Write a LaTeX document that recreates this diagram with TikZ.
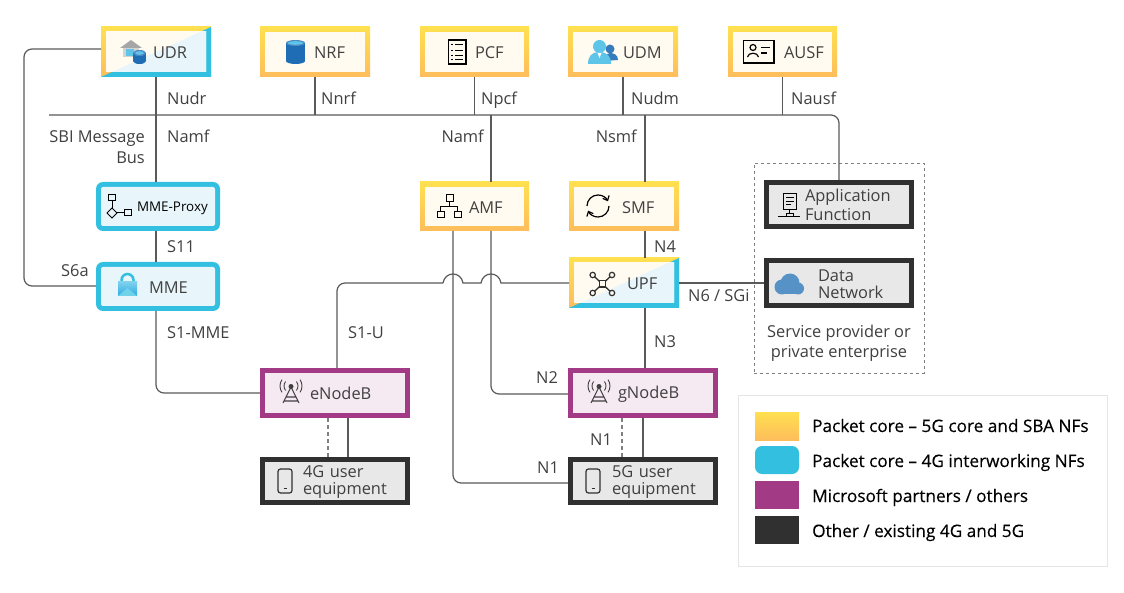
\documentclass[tikz,border=0pt]{standalone}
\usepackage{fontspec}
\setmainfont{Open Sans}
\newfontfamily\legfont[FakeBold=0.25]{Open Sans}
\usetikzlibrary{arrows.meta,calc}
\definecolor{ytop}{HTML}{FFE04F}
\definecolor{ybot}{HTML}{FDBD5C}
\definecolor{yellowin}{HTML}{FFFBF0}
\definecolor{bb}{HTML}{32BFE0}
\definecolor{bluein}{HTML}{E8F6FB}
\definecolor{pb}{HTML}{A33A86}
\definecolor{purplein}{HTML}{F5E9F2}
\definecolor{db}{HTML}{303030}
\definecolor{darkin}{HTML}{E8E8E8}
\definecolor{txt}{HTML}{404040}
\definecolor{ln}{HTML}{5A5A5A}
\definecolor{cdark}{HTML}{1F6DB5}
\definecolor{clight}{HTML}{5EC4E8}
\tikzset{
  basebox/.style={inner xsep=0pt,inner ysep=0pt,outer sep=0pt,align=left,text=txt,
    font=\fontsize{16.4}{17}\selectfont},
  yellowbox/.style={basebox,top color=ytop,bottom color=ybot,
    path picture={\fill[yellowin] ([shift={(5pt,5pt)}]path picture bounding box.south west) rectangle ([shift={(-5pt,-5pt)}]path picture bounding box.north east);}},
  bluebox/.style={basebox,fill=bb,rounded corners=7pt,
    path picture={\fill[bluein,rounded corners=2pt] ([shift={(5pt,5pt)}]path picture bounding box.south west) rectangle ([shift={(-5pt,-5pt)}]path picture bounding box.north east);}},
  purplebox/.style={basebox,fill=pb,
    path picture={\fill[purplein] ([shift={(5pt,5pt)}]path picture bounding box.south west) rectangle ([shift={(-5pt,-5pt)}]path picture bounding box.north east);}},
  darkbox/.style={basebox,fill=db,
    path picture={\fill[darkin] ([shift={(5pt,5pt)}]path picture bounding box.south west) rectangle ([shift={(-5pt,-5pt)}]path picture bounding box.north east);}},
  splitbox/.style={basebox,top color=ytop,bottom color=ybot,
    path picture={
      \fill[bb] (path picture bounding box.south west) -- (path picture bounding box.north east) -- (path picture bounding box.south east) -- cycle;
      \begin{scope}
        \clip ([shift={(5pt,5pt)}]path picture bounding box.south west) rectangle ([shift={(-5pt,-5pt)}]path picture bounding box.north east);
        \fill[yellowin] (path picture bounding box.south west) rectangle (path picture bounding box.north east);
        \fill[bluein] (path picture bounding box.south west) -- (path picture bounding box.north east) -- (path picture bounding box.south east) -- cycle;
      \end{scope}}},
  conn/.style={draw=ln,line width=1.2pt},
  dashconn/.style={draw=gray,line width=1.2pt,dash pattern=on 4pt off 3pt},
  lab/.style={inner sep=0pt,text=txt,font=\fontsize{16.4}{17}\selectfont},
  legtext/.style={inner sep=0pt,text=black,font=\legfont\fontsize{17.2}{19}\selectfont},
  icon/.style={draw=black,line width=1.2pt},
}
\newcommand\nfbox[8]{%
  \pgfmathsetmacro\bw{#5-#3}\pgfmathsetmacro\bh{#6-#4}%
  \pgfmathsetmacro\bx{(#3+#5)/2}\pgfmathsetmacro\by{(#4+#6)/2}%
  \def\ind{\hspace*{#7pt}\rule{0pt}{14pt}}%
  \node[#1,minimum width=\bw pt,minimum height=\bh pt,text width=\bw pt] (#2) at (\bx,\by) {#8};}
\newcommand\lbl[4]{\node[lab,anchor=base west] (#1) at (#2,#3+6) {#4};}
\newcommand\lblr[4]{\node[lab,anchor=base east] (#1) at (#2,#3+6) {#4};}
\newcommand\cyln[4]{% x1 x2 y1 y2
  \fill[cdark] (#1,#3+3) rectangle (#2,#4-3);
  \fill[cdark] ({(#1+#2)/2},#4-3) ellipse [x radius={(#2-#1)/2},y radius=3];
  \fill[cdark!80!white] ({(#1+#2)/2},#3+3) ellipse [x radius={(#2-#1)/2},y radius=3];
  \fill[clight] ({(#1+#2)/2},#3+3) ellipse [x radius={(#2-#1)/2-2},y radius=1.8];}
\newcommand\towericon[1]{\begin{scope}[shift={(#1,0)}]
  \draw[txt,line width=1.1pt,line join=round] (283,403) -- (291,387) -- (299,403) (286,397) -- (296,397) (284.5,401) -- (297.5,401);
  \fill[txt] (291,386.5) circle (2.5);
  \draw[txt,line width=.9pt] (291,386) ++(140:7) arc[start angle=140,end angle=220,radius=7];
  \draw[txt,line width=.9pt] (291,386) ++(40:7) arc[start angle=40,end angle=-40,radius=7];
  \draw[txt,line width=.9pt] (291,386) ++(145:11) arc[start angle=145,end angle=215,radius=11];
  \draw[txt,line width=.9pt] (291,386) ++(35:11) arc[start angle=35,end angle=-35,radius=11];
\end{scope}}
\newcommand\phoneicon[1]{\begin{scope}[shift={(#1,0)}]
  \draw[db,line width=1.2pt,rounded corners=2.5pt] (278,469) rectangle (292,493);
  \draw[db,line width=1.2pt] (283.5,488.5) -- (286.5,488.5);
\end{scope}}
\begin{document}
\begin{tikzpicture}[x=1pt,y=-1pt]
\useasboundingbox (0,0) rectangle (1124,593);
\fill[white] (0,0) rectangle (1124,593);

% enclosures
\node[draw=gray,dashed,line width=.8pt,inner sep=0pt,outer sep=0pt,minimum width=170pt,minimum height=210pt] (provider) at (839,268) {};
\node[draw=black!10,line width=1pt,inner sep=0pt,outer sep=0pt,minimum width=369pt,minimum height=171pt] (legend) at (922.5,480.5) {};

% network functions
\nfbox{splitbox}{udr}{101}{27}{211}{77}{52}{\ind UDR}
\nfbox{yellowbox}{nrf}{260}{27}{370}{77}{54}{\ind NRF}
\nfbox{yellowbox}{pcf}{420}{27}{529}{77}{55}{\ind PCF}
\nfbox{yellowbox}{udm}{568}{27}{678}{77}{55}{\ind UDM}
\nfbox{yellowbox}{ausf}{728}{27}{837}{77}{56}{\ind AUSF}
\nfbox{yellowbox}{amf}{420}{182}{529}{231}{49}{\ind AMF}
\nfbox{yellowbox}{smf}{569}{182}{679}{231}{53}{\ind SMF}
\nfbox{bluebox,font=\fontsize{13.4}{15}\selectfont,text=black}{proxy}{96}{182}{220}{231}{41}{\ind MME-Proxy}
\nfbox{bluebox}{mme}{96}{262}{220}{311}{53}{\ind MME}
\nfbox{splitbox}{upf}{569}{258}{679}{308}{58}{\ind UPF}
\nfbox{darkbox}{af}{764}{180}{914}{229}{41}{\ind Application\\\ind Function}
\nfbox{darkbox}{dn}{764}{258}{914}{308}{54}{\ind Data\\\ind Network}
\nfbox{purplebox}{enb}{260}{368}{410}{418}{50}{\ind eNodeB}
\nfbox{purplebox}{gnb}{568}{368}{718}{418}{50}{\ind gNodeB}
\nfbox{darkbox}{ue4}{260}{457}{410}{505}{43}{\ind 4G user\\\ind equipment}
\nfbox{darkbox}{ue5}{568}{457}{718}{505}{44}{\ind 5G user\\\ind equipment}

% free ends of the bus and the hops
\coordinate (busl) at (49,115);
\coordinate (h1a) at (443,283);
\coordinate (h1b) at (463,283);
\coordinate (h2a) at (481,283);
\coordinate (h2b) at (501,283);

% connectors
\draw[conn,rounded corners=8pt] (af.north -| 839,0) |- (busl);
\draw[conn,rounded corners=8pt] (udr.west |- 0,49) -| (24,168) |- (mme.west |- 0,286);
\draw[conn] (udr.south) -- (proxy.north -| udr.south);
\draw[conn] (proxy.south -| udr.south) -- (mme.north -| udr.south);
\draw[conn,rounded corners=8pt] (mme.south -| udr.south) |- (enb.west);
\draw[conn] (nrf.south) -- (nrf.south |- busl);
\draw[conn] (pcf.south) -- (pcf.south |- busl);
\draw[conn] (udm.south) -- (udm.south |- busl);
\draw[conn] (ausf.south) -- (ausf.south |- busl);
\draw[conn] (amf.north -| 491,0) -- (491,0 |- busl);
\draw[conn] (smf.north -| 645,0) -- (645,0 |- busl);
\draw[conn] (smf.south -| 645,0) -- (upf.north -| 645,0);
\draw[conn] (upf.south -| 645,0) -- (gnb.north -| 645,0);
\draw[conn] (upf.east) -- (dn.west);
\draw[conn,rounded corners=8pt] (enb.north -| 337,0) |- (h1a);
\draw[conn] (h1a) .. controls (445,271) and (461,271) .. (h1b) -- (h2a) .. controls (483,271) and (499,271) .. (h2b) -- (upf.west);
\draw[conn,rounded corners=8pt] (amf.south -| 453,0) |- (ue5.west |- 0,483);
\draw[conn,rounded corners=8pt] (amf.south -| 491,0) |- (gnb.west |- 0,394);
\draw[conn] (enb.south -| 348,0) -- (ue4.north -| 348,0);
\draw[dashconn] (enb.south -| 328,0) -- (ue4.north -| 328,0);
\draw[conn] (gnb.south -| 643,0) -- (ue5.north -| 643,0);
\draw[dashconn] (gnb.south -| 622,0) -- (ue5.north -| 622,0);

% connector labels
\lbl{lnudr}{167}{99}{Nudr}
\lbl{lnnrf}{321}{99}{Nnrf}
\lbl{lnpcf}{481}{99}{Npcf}
\lbl{lnudm}{631}{99}{Nudm}
\lbl{lnausf}{791}{99}{Nausf}
\lbl{lnamfa}{167}{137}{Namf}
\lblr{lsbia}{145}{137}{SBI Message}
\lblr{lsbib}{145}{158}{Bus}
\lblr{lnamfb}{484}{137}{Namf}
\lblr{lnsmf}{637}{137}{Nsmf}
\lbl{ln4}{654}{247}{N4}
\lbl{ln6}{688}{296}{N6 / SGi}
\lbl{ln3}{654}{342}{N3}
\lbl{ln2}{536}{378}{N2}
\lbl{ls11}{167}{247}{S11}
\lbl{ls6a}{61}{271}{S6a}
\lbl{ls1m}{167}{333}{S1-MME}
\lbl{ls1u}{348}{333}{S1-U}
\lbl{ln1a}{590}{439}{N1}
\lbl{ln1b}{537}{467}{N1}
\node[lab,anchor=base] (lsp1) at (839,337.5) {Service provider or};
\node[lab,anchor=base] (lsp2) at (839,358) {private enterprise};

% legend
\node[top color=ytop,bottom color=ybot,inner sep=0pt,outer sep=0pt,minimum width=44pt,minimum height=28pt] (sw1) at (777,426) {};
\node[fill=bb,rounded corners=7pt,inner sep=0pt,outer sep=0pt,minimum width=44pt,minimum height=28pt] (sw2) at (777,460) {};
\node[fill=pb,inner sep=0pt,outer sep=0pt,minimum width=44pt,minimum height=28pt] (sw3) at (777,495) {};
\node[fill=db,inner sep=0pt,outer sep=0pt,minimum width=44pt,minimum height=28pt] (sw4) at (777,530) {};
\node[legtext,anchor=base west] (lg1) at (812,432) {Packet core – 5G core and SBA NFs};
\node[legtext,anchor=base west] (lg2) at (812,467) {Packet core – 4G interworking NFs};
\node[legtext,anchor=base west] (lg3) at (812,502) {Microsoft partners / others};
\node[legtext,anchor=base west] (lg4) at (812,537) {Other / existing 4G and 5G};

% UDR icon
\fill[gray!70] (120,48) -- (131,40) -- (142,48) -- cycle;
\fill[gray!35] (123,48) rectangle (139,57);
\fill[clight] (126,49) rectangle (134,56);
\cyln{133}{146}{50}{64}
% NRF icon
\cyln{286}{305}{40}{64}
% PCF icon
\draw[icon] (448.5,40) rectangle (466,64);
\foreach \yy in {45,50.5,56,60}{\draw[black,line width=1pt] (451,\yy) -- (453,\yy) (455,\yy) -- (463,\yy);}
% UDM icon
\fill[cdark!90] (610,49) circle (4.5);
\fill[cdark!90] (605,61) .. controls (605,54) and (608,53) .. (610,53) .. controls (614,53) and (618,55) .. (618,60) -- cycle;
\fill[clight] (599.5,46.5) circle (6.5);
\fill[clight] (588,64) .. controls (588,56) and (592,52) .. (599,52) .. controls (607,52) and (611,56) .. (611,64) -- cycle;
\fill[white] (597.5,53) -- (601.5,53) -- (599.5,58) -- cycle;
% AUSF icon
\draw[black,line width=1.5pt] (743.5,40.5) rectangle (774,63);
\draw[black,line width=1.2pt] (753,47.5) circle (3);
\draw[black,line width=1.2pt] (747.5,57) .. controls (748,52) and (758,52) .. (758.5,57);
\draw[black,line width=1.2pt] (761,47.5) -- (770,47.5) (761,53) -- (767,53);
% AMF icon
\draw[icon,line width=1pt] (446,195) rectangle (453,201.5) (437,212) rectangle (444,218) (454,212) rectangle (461,218);
\draw[icon,line width=1pt] (449.5,201.5) -- (449.5,207) (440.5,212) -- (440.5,207) -- (457.5,207) -- (457.5,212);
% SMF icon
\draw[black,line width=1.2pt,-{Straight Barb[length=4pt,width=7pt]}] (587,206) arc[start angle=180,end angle=335,radius=11];
\draw[black,line width=1.2pt,-{Straight Barb[length=4pt,width=7pt]}] (609,206) arc[start angle=0,end angle=155,radius=11];
% MME-Proxy icon
\draw[icon,line width=1pt] (108.5,194.5) rectangle (115.5,201);
\draw[icon,line width=1pt] (112,201) -- (112,208);
\draw[icon,line width=1pt] (112,208) -- (117,213) -- (112,218) -- (107,213) -- cycle;
\draw[icon,line width=1pt] (117,213) -- (124,213);
\draw[icon,line width=1pt] (124,209.5) rectangle (131,216);
% MME icon
\draw[bb,line width=2.5pt] (121.5,283) -- (121.5,280) arc[start angle=180,end angle=360,radius=6] -- (133.5,283);
\shade[top color=clight!80!white,bottom color=bb!90!blue] (118,282) rectangle (137,296);
\fill[bb!70!white] (118,296) -- (127.5,288) -- (137,296) -- cycle;
% UPF icon
\draw[db,line width=1.3pt] (592.7,275) -- (612,293) (612,275) -- (592.7,293);
\draw[db,line width=1.2pt,fill=yellowin] (599.5,280.5) rectangle (605.5,287);
\foreach \cx/\cy in {592.7/275,612/275,592.7/293,612/293}{\draw[db,line width=1.2pt,fill=yellowin] (\cx,\cy) circle (2.7);}
% Application Function icon
\draw[icon,line width=1pt] (783,194) rectangle (796,210);
\draw[black,line width=1pt] (785.5,198) -- (793.5,198) (785.5,201.5) -- (793.5,201.5) (785.5,205) -- (791,205);
\draw[icon,line width=1pt] (789.5,210) -- (789.5,214) (778,217) -- (800,217);
\draw[icon,line width=1pt] (786,214) rectangle (793,217);
% Data Network icon
\fill[cdark!75!white] (782,287) circle (7.5) (790,283) circle (9.5) (798,288.5) circle (6);
\fill[cdark!75!white] (782,286) rectangle (798,294.5);
% radio and phone icons
\towericon{0}
\towericon{308}
\phoneicon{0}
\phoneicon{308}
\end{tikzpicture}
\end{document}
